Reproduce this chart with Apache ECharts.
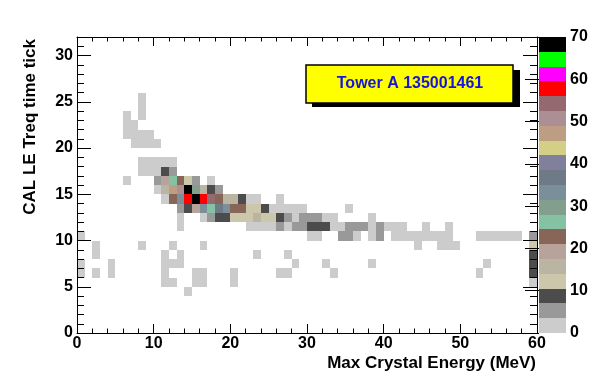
<!DOCTYPE html>
<html><head><meta charset="utf-8">
<script src="https://cdn.jsdelivr.net/npm/echarts@6/dist/echarts.min.js"></script>
<style>html,body{margin:0;padding:0;background:#fff}#c{width:596px;height:372px}</style>
</head><body><div id="c"></div>
<script>
// Axis ranges (bins of 1 unit in x and y)
const xRange = [0, 60];
const yRange = [0, 32];
const zRange = [0, 70];
const zStep = 3.5;
const xTitle = 'Max Crystal Energy (MeV)';
const yTitle = 'CAL LE Treq time tick';
const boxLabel = 'Tower A 135001461';
// ROOT default palette, 20 contour levels (low -> high)
const paletteColors = ['#cccccc','#999999','#4c4c4c','#ccc7ab','#bab5a3','#b8a39c','#876657','#85c2a3','#829e8c','#7a8f99',
  '#6e7a85','#80809c','#d4cf87','#bd9e82','#ab8f94','#946970','#ff0000','#ff00ff','#00ff00','#000000'];

// Histogram rows: y bin -> [x bin, count]
const row25 = [[8,1]];
const row24 = [[8,1]];
const row23 = [[6,1],[8,1]];
const row22 = [[6,1],[7,1]];
const row21 = [[6,1],[7,2],[8,2],[9,1]];
const row20 = [[7,1],[8,2],[9,2],[10,1]];
const row18 = [[8,1],[9,2],[10,2],[11,2],[12,1]];
const row17 = [[8,1],[9,2],[10,3],[11,9],[12,5]];
const row16 = [[6,1],[10,5],[11,19],[12,26],[13,22],[14,12],[15,5],[17,1]];
const row15 = [[10,2],[11,15],[12,47],[13,50],[14,68],[15,30],[16,15],[17,8],[18,4]];
const row14 = [[11,2],[12,22],[13,33],[14,58],[15,70],[16,57],[17,54],[18,22],[19,15],[20,14],[21,8],[22,2],[23,1],[26,1]];
const row13 = [[13,5],[14,9],[15,19],[16,33],[17,26],[18,37],[19,32],[20,23],[21,22],[22,12],[23,11],[24,8],[25,3],[26,2],[27,2],[28,1],[29,1],[35,1]];
const row12 = [[13,1],[16,2],[17,5],[18,9],[19,8],[20,12],[21,13],[22,11],[23,15],[24,12],[25,11],[26,8],[27,5],[28,3],[29,4],[30,5],[31,4],[32,2],[33,1],[38,1]];
const row11 = [[13,1],[22,2],[23,3],[24,2],[25,1],[26,4],[27,3],[28,5],[29,4],[30,8],[31,9],[32,8],[33,3],[34,2],[35,4],[36,5],[37,4],[38,2],[39,5],[40,1],[41,2],[42,1],[45,1],[48,1]];
const row10 = [[0,1],[30,2],[31,1],[34,4],[35,5],[36,2],[38,1],[39,4],[41,1],[42,1],[43,2],[44,1],[45,1],[46,1],[47,2],[48,1],[52,1],[53,1],[54,1],[55,1],[56,1],[57,1],[59,5]];
const row9 = [[2,1],[8,1],[12,1],[16,1],[44,1],[47,1],[48,1],[49,1],[59,12]];
const row8 = [[2,1],[11,1],[13,1],[23,1],[27,1],[59,9]];
const row7 = [[0,1],[4,1],[11,1],[12,1],[13,1],[28,1],[32,1],[38,1],[53,1],[59,8]];
const row6 = [[0,1],[2,1],[4,1],[11,1],[15,1],[16,1],[20,1],[26,1],[27,1],[33,1],[52,1],[59,9]];
const row5 = [[11,1],[12,1],[15,1],[16,1],[20,1],[59,2]];
const row4 = [[14,1]];

const rows = [[4,row4],[5,row5],[6,row6],[7,row7],[8,row8],[9,row9],[10,row10],[11,row11],[12,row12],[13,row13],
  [14,row14],[15,row15],[16,row16],[17,row17],[18,row18],[20,row20],[21,row21],[22,row22],[23,row23],[24,row24],[25,row25]];
const cells = [];
rows.forEach(([y, r]) => r.forEach(([x, c]) => cells.push([x, y, c])));
const paletteBands = paletteColors.map((c, k) => [k * zStep, (k + 1) * zStep, k]);

const FONT = '"Liberation Sans", Arial, Helvetica, sans-serif';
const lbl = {fontFamily: FONT, fontWeight: 'bold', fontSize: 16, color: '#000'};
const blk = {color: '#000', width: 1};

const chart = echarts.init(document.getElementById('c'), null, {renderer: 'canvas'});
chart.setOption({
  backgroundColor: '#fff',
  animation: false,
  grid: [
    {left: 77, top: 37, width: 460, height: 296},
    {left: 539, top: 37, width: 27, height: 296}
  ],
  xAxis: [
    {gridIndex: 0, type: 'value', min: xRange[0], max: xRange[1], interval: 10, position: 'bottom', z: 5,
     axisLine: {show: true, onZero: false, lineStyle: blk},
     axisTick: {show: true, inside: true, length: 9, lineStyle: blk},
     minorTick: {show: true, splitNumber: 5, length: 4.5, lineStyle: blk},
     splitLine: {show: false},
     axisLabel: Object.assign({margin: 3}, lbl)},
    {gridIndex: 0, type: 'value', min: xRange[0], max: xRange[1], interval: 10, position: 'top', z: 5,
     axisLine: {show: true, onZero: false, lineStyle: blk},
     axisTick: {show: true, inside: true, length: 9, lineStyle: blk},
     minorTick: {show: true, splitNumber: 5, length: 4.5, lineStyle: blk},
     splitLine: {show: false}, axisLabel: {show: false}},
    {gridIndex: 1, type: 'value', min: 0, max: 1, show: false}
  ],
  yAxis: [
    {gridIndex: 0, type: 'value', min: yRange[0], max: yRange[1], interval: 5, position: 'left', z: 5,
     axisLine: {show: true, onZero: false, lineStyle: blk},
     axisTick: {show: true, inside: true, length: 14, lineStyle: blk},
     minorTick: {show: true, splitNumber: 5, length: 7, lineStyle: blk},
     splitLine: {show: false},
     axisLabel: Object.assign({margin: 4, showMaxLabel: false}, lbl)},
    {gridIndex: 0, type: 'value', min: yRange[0], max: yRange[1], interval: 5, position: 'right', z: 5,
     axisLine: {show: true, onZero: false, lineStyle: blk},
     axisTick: {show: true, inside: true, length: 14, lineStyle: blk},
     minorTick: {show: true, splitNumber: 5, length: 7, lineStyle: blk},
     splitLine: {show: false}, axisLabel: {show: false}},
    {gridIndex: 1, type: 'value', min: zRange[0], max: zRange[1], interval: 10, position: 'right', z: 5,
     axisLine: {show: false},
     axisTick: {show: true, inside: true, length: 14, lineStyle: blk},
     splitLine: {show: false},
     axisLabel: Object.assign({margin: 4}, lbl)}
  ],
  visualMap: {
    type: 'piecewise', show: false, seriesIndex: 0, dimension: 2,
    pieces: paletteColors.map((c, k) => k === paletteColors.length - 1
      ? {gte: k * zStep, lte: zRange[1], color: c}
      : {gte: k * zStep, lt: (k + 1) * zStep, color: c})
  },
  series: [
    {type: 'custom', xAxisIndex: 0, yAxisIndex: 0, data: cells, encode: {x: 0, y: 1},
     renderItem: function (params, api) {
       const x = api.value(0), y = api.value(1);
       const a = api.coord([x, y + 1]);
       const b = api.coord([x + 1, y]);
       const x0 = Math.round(a[0]), y0 = Math.round(a[1]);
       const x1 = Math.round(b[0]), y1 = Math.round(b[1]);
       return {type: 'rect', shape: {x: x0, y: y0, width: x1 - x0, height: y1 - y0},
               style: {fill: api.visual('color')}};
     }},
    {type: 'custom', xAxisIndex: 2, yAxisIndex: 2, data: paletteBands, encode: {y: [0, 1]},
     renderItem: function (params, api) {
       const lo = api.value(0), hi = api.value(1), k = api.value(2);
       const a = api.coord([0, hi]);
       const b = api.coord([1, lo]);
       const x0 = Math.round(a[0]), y0 = Math.round(a[1]);
       const x1 = Math.round(b[0]), y1 = Math.round(b[1]);
       return {type: 'rect', shape: {x: x0, y: y0, width: x1 - x0, height: y1 - y0},
               style: {fill: paletteColors[k]}};
     }}
  ],
  graphic: [
    {type: 'text', x: 536, y: 363, style: {text: xTitle, fontFamily: FONT, fontWeight: 'bold', fontSize: 17,
      fill: '#000', align: 'right', verticalAlign: 'middle'}},
    {type: 'text', x: 30, y: 39, rotation: Math.PI / 2, style: {text: yTitle, fontFamily: FONT, fontWeight: 'bold', fontSize: 17,
      fill: '#000', align: 'right', verticalAlign: 'middle'}},
    {type: 'rect', shape: {x: 312, y: 70, width: 208, height: 37}, style: {fill: '#000'}, z: 10},
    {type: 'rect', shape: {x: 306, y: 65, width: 207, height: 38}, style: {fill: '#ffff00', stroke: '#000', lineWidth: 1.5}, z: 11},
    {type: 'text', x: 410, y: 84, z: 12, style: {text: boxLabel, fontFamily: FONT, fontWeight: 'bold', fontSize: 16,
      fill: '#1515dd', align: 'center', verticalAlign: 'middle'}}
  ]
});
</script></body></html>
